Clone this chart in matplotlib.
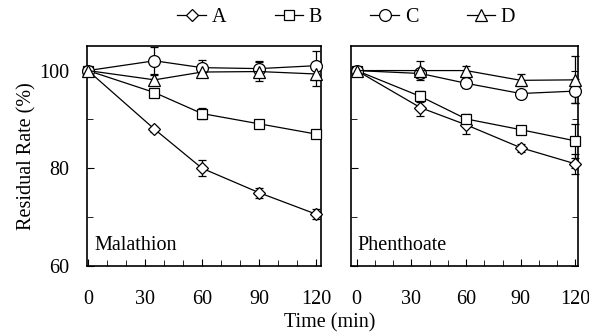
import matplotlib
matplotlib.use("Agg")
import matplotlib.pyplot as plt
from matplotlib.lines import Line2D
from matplotlib.ticker import MultipleLocator

plt.rcParams['font.family'] = ['Liberation Serif', 'DejaVu Serif']

time = [0, 35, 60, 90, 120]
labels = ['A', 'B', 'C', 'D']
markers = ['D', 's', 'o', '^']
msizes = [6.5, 7.5, 8.5, 8.5]

# Malathion
mal_vals = {
    'A': [100, 88.0, 80.0, 75.0, 70.6],
    'B': [100, 95.5, 91.2, 89.1, 87.0],
    'C': [100, 102.0, 100.6, 100.4, 101.0],
    'D': [100, 98.1, 99.7, 99.8, 99.3],
}
mal_err = {
    'A': [0, 0.5, 1.6, 1.0, 1.0],
    'B': [0, 0.5, 1.2, 0.5, 0.6],
    'C': [0, 2.8, 1.5, 1.5, 3.0],
    'D': [0, 1.0, 1.0, 2.0, 2.5],
}

# Phenthoate
phe_vals = {
    'A': [100, 92.4, 88.9, 84.2, 80.9],
    'B': [100, 94.7, 90.1, 87.9, 85.6],
    'C': [100, 99.4, 97.4, 95.3, 95.8],
    'D': [100, 100.0, 100.0, 98.0, 98.1],
}
phe_err = {
    'A': [0, 1.8, 1.8, 0.8, 2.0],
    'B': [0, 1.2, 1.0, 0.5, 3.4],
    'C': [0, 1.0, 1.0, 0.5, 2.5],
    'D': [0, 2.0, 1.0, 1.2, 4.8],
}

fs = 14.5

fig = plt.figure(figsize=(5.89, 3.32), dpi=100)
ax1 = fig.add_axes([0.1477, 0.199, 0.397, 0.662])
ax2 = fig.add_axes([0.596, 0.199, 0.385, 0.662])

for ax, vals, errs, name in [(ax1, mal_vals, mal_err, 'Malathion'),
                             (ax2, phe_vals, phe_err, 'Phenthoate')]:
    for lab, mk, ms in zip(labels, markers, msizes):
        ax.errorbar(time, vals[lab], yerr=errs[lab], color='black',
                    lw=0.9, elinewidth=0.9, capsize=3, capthick=1.2,
                    marker=mk, ms=ms, mfc='white', mec='black', mew=0.9,
                    clip_on=False, zorder=3)
    ax.set_ylim(60, 105)
    ax.xaxis.set_major_locator(MultipleLocator(30))
    ax.xaxis.set_minor_locator(MultipleLocator(10))
    ax.yaxis.set_major_locator(MultipleLocator(20))
    ax.yaxis.set_minor_locator(MultipleLocator(10))
    ax.tick_params(which='both', direction='in', labelsize=fs, top=False)
    ax.tick_params(which='major', length=5)
    ax.tick_params(which='minor', length=4)
    ax.tick_params(axis='x', which='major', pad=17)
    ax.tick_params(axis='y', which='major', pad=13)
    ax.text(0.03, 0.05, name, transform=ax.transAxes, fontsize=fs,
            ha='left', va='bottom')
    for s in ax.spines.values():
        s.set_linewidth(1.2)

ax1.set_xlim(-0.5, 122.5)
ax2.set_xlim(-3.1, 121.3)
ax2.tick_params(axis='y', which='both', labelleft=False, right=True)

ax1.set_ylabel('Residual Rate (%)', fontsize=fs, labelpad=2)
fig.text(0.56, 0.0, 'Time (min)', ha='center', va='bottom', fontsize=fs)

handles = [Line2D([], [], color='black', lw=0.9, marker=mk, ms=ms,
                  mfc='white', mec='black', mew=0.9)
           for mk, ms in zip(markers, msizes)]
fig.legend(handles=handles, labels=labels, loc='center', ncol=4,
           bbox_to_anchor=(0.588, 0.948), frameon=False, fontsize=fs,
           handlelength=1.4, handletextpad=0.3, columnspacing=2.4,
           borderaxespad=0)

fig.savefig('out.png', dpi=100)
